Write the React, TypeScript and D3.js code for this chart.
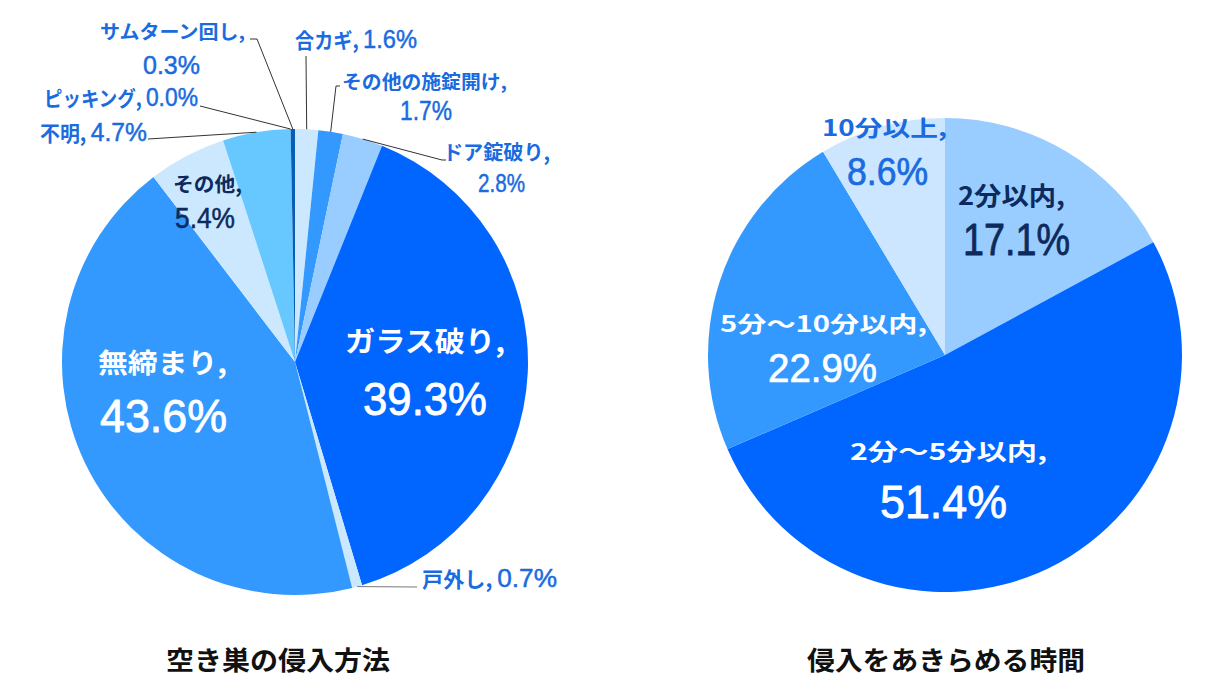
import React from "react";
import * as d3 from "d3";

// ---- data ----
const leftLabels = ["合カギ", "その他の施錠開け", "ドア錠破り", "ガラス破り", "戸外し", "無締まり", "その他", "不明", "ピッキング", "サムターン回し"];
const leftValues = [1.6, 1.7, 2.8, 39.3, 0.7, 43.6, 5.4, 4.7, 0.0, 0.3];
const rightLabels = ["2分以内", "2分～5分以内", "5分～10分以内", "10分以上"];
const rightValues = [17.1, 51.4, 22.9, 8.6];
const titles = ["空き巣の侵入方法", "侵入をあきらめる時間"];

// ---- styles ----
const leftColors = ["#cce8ff", "#3399ff", "#99ccff", "#0066ff", "#cce8ff", "#3399ff", "#cce8ff", "#66c8ff", "#1565c0", "#0a5cb5"];
const rightColors = ["#99ccff", "#0066ff", "#3399ff", "#cce6ff"];
const BLUE = "#1a6be0";
const NAVY = "#0d2a5c";
const WHITE = "#ffffff";
const JP = "'Noto Sans CJK JP', 'Noto Sans', sans-serif";
const NUM = "'Liberation Sans', Arial, sans-serif";

type Line = { t: "name" | "value" | "both"; x: number; y: number; w: number; fj?: number; fn?: number };
type Lay = { i: number; color: string; lines: Line[]; leader?: number[][]; leaderColor?: string };

const leftLayout: Lay[] = [
  { i: 0, color: BLUE, lines: [{ t: "both", x: 295, y: 48, w: 122, fj: 21, fn: 26 }], leader: [[306, 56]] },
  { i: 1, color: BLUE, lines: [{ t: "name", x: 342, y: 89, w: 165, fj: 19 }, { t: "value", x: 400, y: 120, w: 52, fn: 27 }], leader: [[340, 86], [336, 86]] },
  { i: 2, color: BLUE, lines: [{ t: "name", x: 443, y: 160, w: 107, fj: 20 }, { t: "value", x: 478, y: 192, w: 47, fn: 26 }], leader: [[446, 160], [442, 160]] },
  { i: 3, color: WHITE, lines: [{ t: "name", x: 345, y: 352, w: 160, fj: 28 }, { t: "value", x: 363, y: 415, w: 124, fn: 46 }] },
  { i: 4, color: BLUE, lines: [{ t: "both", x: 422, y: 587, w: 135, fj: 21, fn: 26 }], leader: [[417, 587]], leaderColor: "#777" },
  { i: 5, color: WHITE, lines: [{ t: "name", x: 98, y: 373, w: 129, fj: 27 }, { t: "value", x: 100, y: 432, w: 127, fn: 47 }] },
  { i: 6, color: NAVY, lines: [{ t: "name", x: 173, y: 192, w: 69, fj: 20 }, { t: "value", x: 175, y: 228, w: 60, fn: 29 }] },
  { i: 7, color: BLUE, lines: [{ t: "both", x: 40, y: 141, w: 107, fj: 21, fn: 26 }], leader: [[148, 139]] },
  { i: 8, color: BLUE, lines: [{ t: "both", x: 44, y: 106, w: 154, fj: 21, fn: 26 }], leader: [[200, 106]] },
  { i: 9, color: BLUE, lines: [{ t: "name", x: 100, y: 39, w: 145, fj: 19 }, { t: "value", x: 143, y: 74, w: 57, fn: 26 }], leader: [[250, 39], [257, 39]] },
];

const rightLayout: Lay[] = [
  { i: 0, color: NAVY, lines: [{ t: "name", x: 958, y: 205, w: 107, fj: 25 }, { t: "value", x: 963, y: 255, w: 107, fn: 44 }] },
  { i: 1, color: WHITE, lines: [{ t: "name", x: 850, y: 460, w: 197, fj: 23 }, { t: "value", x: 880, y: 518, w: 127, fn: 46 }] },
  { i: 2, color: WHITE, lines: [{ t: "name", x: 720, y: 332, w: 207, fj: 22 }, { t: "value", x: 768, y: 382, w: 109, fn: 40 }] },
  { i: 3, color: BLUE, lines: [{ t: "name", x: 822, y: 136, w: 125, fj: 22 }, { t: "value", x: 847, y: 185, w: 81, fn: 38 }] },
];

function Pie(props: { cx: number; cy: number; r: number; labels: string[]; values: number[]; colors: string[]; layout: Lay[] }) {
  const { cx, cy, r, labels, values, colors, layout } = props;
  const arcs = d3.pie<number>().sort(null).value((d) => d)(values);
  const arcGen = d3.arc<d3.PieArcDatum<number>>().innerRadius(0).outerRadius(r);
  const edge = (a: d3.PieArcDatum<number>) => {
    const m = (a.startAngle + a.endAngle) / 2;
    return [cx + r * Math.sin(m), cy - r * Math.cos(m)];
  };
  return (
    <g>
      <g transform={`translate(${cx},${cy})`}>
        {arcs.map((a, k) => (
          <path key={k} d={arcGen(a) || ""} fill={colors[k]} />
        ))}
      </g>
      {layout.map((L) => {
        const a = arcs[L.i];
        const lead = L.leader ? [...L.leader, edge(a)] : null;
        return (
          <g key={L.i}>
            {lead && (
              <path
                d={d3.line()(lead as [number, number][]) || ""}
                fill="none"
                stroke={L.leaderColor || "#333"}
                strokeWidth={1}
              />
            )}
            {L.lines.map((ln, j) => {
              const name = labels[L.i] + ",";
              const val = values[L.i].toFixed(1) + "%";
              const fn = ln.fn || 0;
              return (
                <text key={j} x={ln.x} y={ln.y} textLength={ln.w} lengthAdjust="spacingAndGlyphs" fill={L.color}>
                  {(ln.t === "name" || ln.t === "both") && (
                    <tspan fontFamily={JP} fontWeight={700} fontSize={ln.fj}>
                      {ln.t === "both" ? name + " " : name}
                    </tspan>
                  )}
                  {(ln.t === "value" || ln.t === "both") && (
                    <tspan
                      fontFamily={NUM}
                      fontWeight={400}
                      fontSize={fn}
                      stroke={L.color}
                      strokeWidth={fn * 0.018}
                      strokeLinejoin="round"
                    >
                      {val}
                    </tspan>
                  )}
                </text>
              );
            })}
          </g>
        );
      })}
    </g>
  );
}

export default function App() {
  return (
    <svg width={1212} height={676} style={{ position: "absolute", left: 0, top: 0, background: "#fff" }}>
      <rect width={1212} height={676} fill="#fff" />
      <Pie cx={295} cy={362} r={233} labels={leftLabels} values={leftValues} colors={leftColors} layout={leftLayout} />
      <Pie cx={945} cy={355} r={237} labels={rightLabels} values={rightValues} colors={rightColors} layout={rightLayout} />
      <text x={278} y={670} textAnchor="middle" fontFamily={JP} fontWeight={700} fontSize={26} fill="#111" textLength={224} lengthAdjust="spacingAndGlyphs">
        {titles[0]}
      </text>
      <text x={946} y={670} textAnchor="middle" fontFamily={JP} fontWeight={700} fontSize={26} fill="#111" textLength={278} lengthAdjust="spacingAndGlyphs">
        {titles[1]}
      </text>
    </svg>
  );
}
